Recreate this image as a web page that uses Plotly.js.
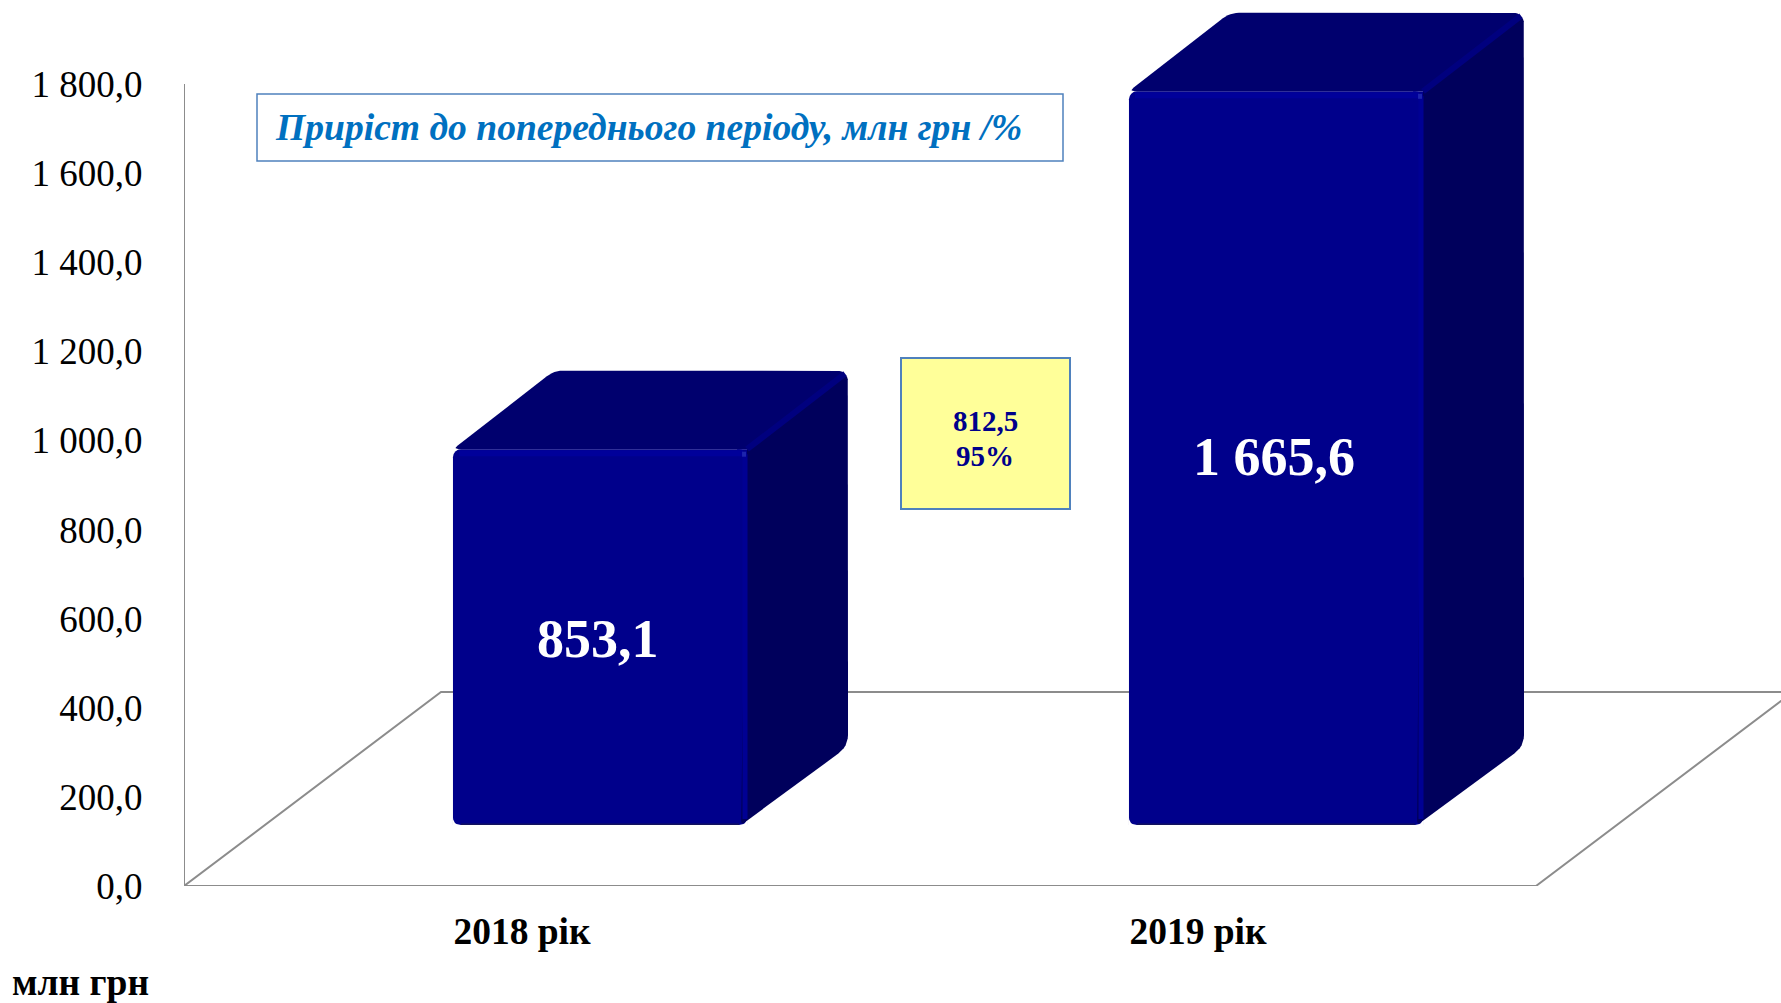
<!DOCTYPE html>
<html><head><meta charset="utf-8">
<script src="https://cdn.plot.ly/plotly-3.0.1.min.js"></script>
<style>html,body{margin:0;padding:0;background:#fff}#c{width:1781px;height:1003px}</style>
</head><body><div id="c"></div>
<script>
const categories = ['2018 рік', '2019 рік'];
const values = [853.1, 1665.6];
const valueLabels = ['853,1', '1 665,6'];
const yTicks = [0, 200, 400, 600, 800, 1000, 1200, 1400, 1600, 1800];
const yTickLabels = ['0,0', '200,0', '400,0', '600,0', '800,0', '1 000,0', '1 200,0', '1 400,0', '1 600,0', '1 800,0'];
const growthLabels = ['812,5', '95%'];
const boxTitle = 'Приріст до попереднього періоду, млн грн /%';
const unitLabel = 'млн грн';

const W = 1781, H = 1003, L = 184, B = 117, catPx = 676;
const yZeroPx = H - B, axisScale = 802 / 1800, barScale = 0.4405, barZeroPx = 825, barCenterPx = 600;
const plotW = W - L, plotH = H - B;
const xRange = [-0.5, -0.5 + plotW / catPx];
const x2Range = [-(barCenterPx - L) / catPx, (W - barCenterPx) / catPx];
const yRange = [0, plotH / axisScale];
const y2Range = [-(yZeroPx - barZeroPx) / barScale, barZeroPx / barScale];
const barW = 0.435, dx = 101 / catPx, dy = 78.5 / barScale;
const floorDx = 257 / catPx, floorDy = 194 / axisScale;
const C = {front:'#00008B', side:'#00005C', top:'#00006E', grey:'#8C8C8C'};

function rounded(pts, radii) {
  const out = [];
  pts.forEach((p, i) => {
    const r = radii[i];
    if (!r) { out.push(p); return; }
    const a = pts[(i + pts.length - 1) % pts.length], b = pts[(i + 1) % pts.length];
    const px = q => [q[0] * catPx, q[1] * barScale];
    const P = px(p), A = px(a), Z = px(b);
    const la = Math.hypot(A[0]-P[0], A[1]-P[1]), lb = Math.hypot(Z[0]-P[0], Z[1]-P[1]);
    const s = [P[0]+(A[0]-P[0])*r/la, P[1]+(A[1]-P[1])*r/la];
    const e = [P[0]+(Z[0]-P[0])*r/lb, P[1]+(Z[1]-P[1])*r/lb];
    for (let k = 0; k <= 6; k++) {
      const t = k / 6, u = 1 - t;
      out.push([(u*u*s[0]+2*u*t*P[0]+t*t*e[0]) / catPx, (u*u*s[1]+2*u*t*P[1]+t*t*e[1]) / barScale]);
    }
  });
  return out;
}
function poly(pts, color) {
  const closed = pts.concat([pts[0]]);
  return {type:'scatter', mode:'lines', xaxis:'x2', yaxis:'y2', x:closed.map(p=>p[0]), y:closed.map(p=>p[1]),
    fill:'toself', fillcolor:color, line:{width:0, color:color}, hoverinfo:'skip', showlegend:false, cliponaxis:false};
}
function stroke(xs, ys, color, width) {
  return {type:'scatter', mode:'lines', xaxis:'x2', yaxis:'y2', x:xs, y:ys, line:{color:color, width:width},
    hoverinfo:'skip', showlegend:false, cliponaxis:false};
}
function cornerMask(x, y, sx, r) {
  const rx = sx * r / catPx, ry = r / barScale, pts = [];
  for (let k = 0; k <= 6; k++) {
    const t = k / 6, u = 1 - t;
    pts.push([x + u*u*rx, y + t*t*ry]);
  }
  pts.push([x, y]);
  return poly(pts, '#ffffff');
}

const x0 = xRange[0];
const xEnd = 1.5;
const floorLines = [
  {x:[x0, x0, xEnd, xEnd + floorDx], y:[1800, 0, 0, floorDy]},
  {x:[x0, x0 + floorDx, xEnd + floorDx], y:[0, floorDy, floorDy]}
].map(t => ({type:'scatter', mode:'lines', x:t.x, y:t.y, line:{color:C.grey, width:2},
  hoverinfo:'skip', showlegend:false, cliponaxis:false}));

const barTrace = {type:'bar', xaxis:'x2', yaxis:'y2', x:[0, 1], y:values, width:barW,
  marker:{color:C.front, cornerradius:8, line:{width:0}},
  hoverinfo:'skip', showlegend:false};

const faces = [];
values.forEach((v, i) => {
  const l = i - barW / 2, r = i + barW / 2;
  const ux = 1 / catPx, uy = 1 / barScale;
  faces.push(cornerMask(l, 0, 1, 8), cornerMask(r, 0, -1, 8));
  faces.push(poly(rounded([[l, v], [l + dx, v + dy], [r + dx, v + dy], [r, v]], [6, 9, 12, 0]), C.top));
  faces.push(poly(rounded([[r - 6 * ux, 0], [r + dx, dy], [r + dx, v + dy], [r, v]], [4, 12, 12, 0]), C.side));
  faces.push(poly([[r - 10 * ux, v - 10 * uy], [r, v - 10 * uy], [r, v], [r - 10 * ux, v]], C.front));
  faces.push(stroke([r, r + dx - 3 * ux], [v, v + dy - 3 * uy], '#00007F', 6));
  faces.push(stroke([l + 6 * ux, r - 4 * ux], [v - 4 * uy, v - 4 * uy], '#00009A', 6));
  faces.push(stroke([r - 2 * ux, r - 2 * ux], [6 * uy, v - 5 * uy], '#000093', 5));
  faces.push(stroke([l + 8 * ux, r - 8 * ux], [0.8 * uy, 0.8 * uy], '#12125E', 1.5));
  faces.push(stroke([r - 5 * ux, r - 1 * ux], [v - 5 * uy, v - 5 * uy], '#1C24AE', 5));
});

const pxX = p => (p - L) / plotW, pxY = p => 1 - p / plotH;
const boxes = [
  {x0:257, x1:1063, y0:94, y1:161, fill:'#ffffff', w:1.5},
  {x0:901, x1:1070, y0:358, y1:509, fill:'#FFFF99', w:2}
].map(b => ({type:'rect', xref:'paper', yref:'paper', x0:pxX(b.x0), x1:pxX(b.x1), y0:pxY(b.y0), y1:pxY(b.y1),
  fillcolor:b.fill, line:{color:'#4F81BD', width:b.w}, layer:'above'}));

const serif = 'Liberation Serif';
const paperNotes = [
  {text:boxTitle, x:pxX(648), y:pxY(128), font:{family:serif, size:37.6, color:'#0070C0', weight:'bold', style:'italic'}},
  {text:growthLabels[0], x:pxX(985), y:pxY(421), font:{family:serif, size:29, color:'#00008B', weight:'bold'}},
  {text:growthLabels[1], x:pxX(985), y:pxY(456), font:{family:serif, size:29, color:'#00008B', weight:'bold'}},
  {text:unitLabel, x:pxX(80), y:pxY(982), font:{family:serif, size:37.5, color:'#000000', weight:'bold'}}
].map(a => Object.assign({xref:'paper', yref:'paper', showarrow:false, xanchor:'center', yanchor:'middle', align:'center'}, a));
const labelShift = [-2, 1.5];
const valueNotes = values.map((v, i) => ({xref:'x2', yref:'y2', x:i, y:v / 2, xshift:-2, yshift:labelShift[i], text:valueLabels[i],
  showarrow:false, xanchor:'center', yanchor:'middle',
  font:{family:serif, size:54, color:'#ffffff', weight:'bold'}}));

Plotly.newPlot('c', floorLines.concat([barTrace], faces), {
  width:W, height:H, margin:{l:L, r:0, t:0, b:B, pad:0},
  paper_bgcolor:'#ffffff', plot_bgcolor:'#ffffff', showlegend:false, hovermode:false, barmode:'overlay',
  xaxis:{range:xRange, tickvals:[0, 1], ticktext:categories, showgrid:false, zeroline:false, showline:false,
    ticks:'outside', ticklen:12, tickcolor:'rgba(0,0,0,0)', tickfont:{family:serif, size:37.5, color:'#000', weight:'bold'}},
  yaxis:{range:yRange, tickvals:yTicks, ticktext:yTickLabels, showgrid:false, zeroline:false, showline:false,
    ticks:'outside', ticklen:33, tickcolor:'rgba(0,0,0,0)', tickfont:{family:serif, size:37, color:'#000'}},
  xaxis2:{range:x2Range, overlaying:'x', visible:false, fixedrange:true},
  yaxis2:{range:y2Range, overlaying:'y', visible:false, fixedrange:true},
  shapes:boxes, annotations:paperNotes.concat(valueNotes)
}, {displayModeBar:false, staticPlot:true});
</script></body></html>
